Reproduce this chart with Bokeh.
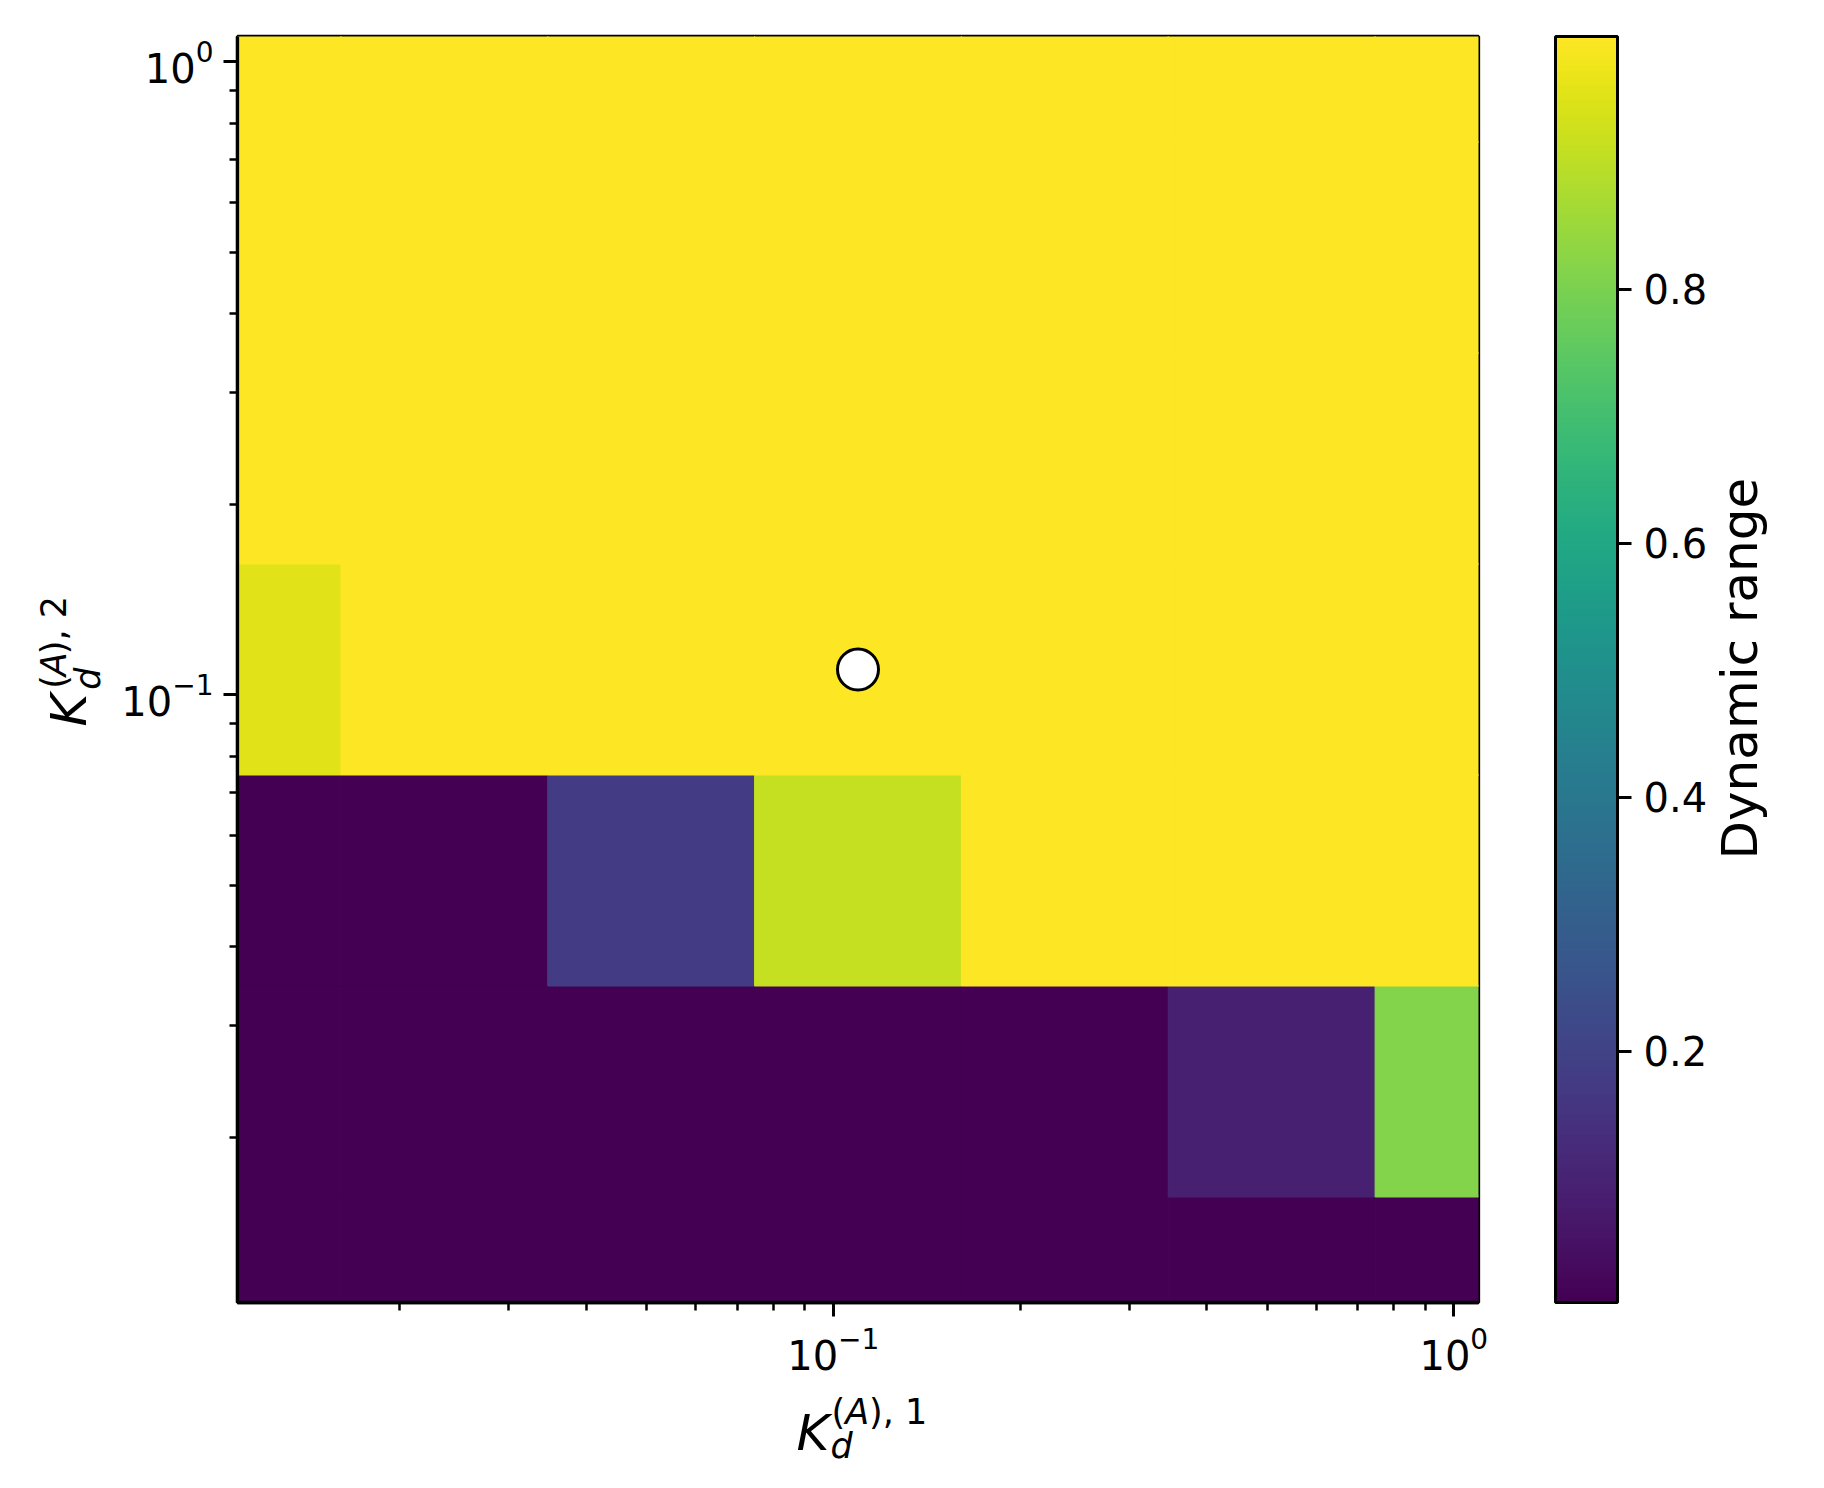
import math
import numpy as np
from bokeh.plotting import figure
from bokeh.layouts import row, column
from bokeh.models import (Range1d, LinearColorMapper, ColorBar, FixedTicker,
                          Label, ColumnDataSource)
from bokeh.palettes import Viridis256
from bokeh.embed import file_html
from bokeh.resources import INLINE

# ---------------- data ----------------
kd1_values = [0.01096, 0.02361, 0.05087, 0.1096, 0.2361, 0.5087, 1.096]
kd2_values = [0.01096, 0.02361, 0.05087, 0.1096, 0.2361, 0.5087, 1.096]

# dynamic range, one list per Kd2 row (lowest Kd2 first), columns follow kd1_values
dr_row_1 = [0.003, 0.003, 0.003, 0.003, 0.003, 0.003, 0.003]
dr_row_2 = [0.003, 0.003, 0.003, 0.003, 0.003, 0.088, 0.815]
dr_row_3 = [0.002, 0.004, 0.180, 0.910, 0.999, 0.999, 0.999]
dr_row_4 = [0.956, 0.999, 0.999, 0.999, 0.999, 0.999, 0.999]
dr_row_5 = [0.999, 0.999, 0.999, 0.999, 0.999, 0.999, 0.999]
dr_row_6 = [0.999, 0.999, 0.999, 0.999, 0.999, 0.999, 0.999]
dr_row_7 = [0.999, 0.999, 0.999, 0.999, 0.999, 0.999, 0.999]
dr_rows = [dr_row_1, dr_row_2, dr_row_3, dr_row_4, dr_row_5, dr_row_6, dr_row_7]

reference_kd1 = [0.1096]
reference_kd2 = [0.1096]

major_ticks = [0.1, 1.0]
minor_ticks = [0.02, 0.03, 0.04, 0.05, 0.06, 0.07, 0.08, 0.09,
               0.2, 0.3, 0.4, 0.5, 0.6, 0.7, 0.8, 0.9]
colorbar_ticks = [0.2, 0.4, 0.6, 0.8]
colorbar_title = "Dynamic range"
x_label_parts = ["K", "d", "(", "A", "), 1"]
y_label_parts = ["K", "d", "(", "A", "), 2"]

# ---------------- layout (page pixels) ----------------
FL, FT, FW, FH = 237, 36, 1242, 1266
LEFT_W = 110            # width of the y-label strip
MAIN_R = 1710           # right edge of the main figure
MAIN_H = 1380           # height of the top row
BOT_H = 92              # height of the x-label strip
TOTAL_W = 1792
FONT = "DejaVu Sans"
ROT_K = 0.4             # pivot correction for rotated labels


def cell_edges(c):
    c = np.asarray(c, dtype=float)
    mids = np.sqrt(c[:-1] * c[1:])
    lo = np.concatenate([[c[0] ** 2 / mids[0]], mids])
    hi = np.concatenate([mids, [c[-1] ** 2 / mids[-1]]])
    return lo, hi


xlo, xhi = cell_edges(kd1_values)
ylo, yhi = cell_edges(kd2_values)
L, R, B, T, V = [], [], [], [], []
for j, row_vals in enumerate(dr_rows):
    for i, v in enumerate(row_vals):
        L.append(xlo[i]); R.append(xhi[i]); B.append(ylo[j]); T.append(yhi[j]); V.append(v)
src = ColumnDataSource(dict(left=L, right=R, bottom=B, top=T, dr=V))

all_vals = [v for r_ in dr_rows for v in r_]
mapper = LinearColorMapper(palette=Viridis256, low=min(all_vals), high=max(all_vals))

main_w = MAIN_R - LEFT_W
p = figure(width=main_w, height=MAIN_H, x_axis_type="log", y_axis_type="log",
           x_range=Range1d(kd1_values[0], kd1_values[-1]),
           y_range=Range1d(kd2_values[0], kd2_values[-1]),
           output_backend="svg", toolbar_location=None,
           min_border_left=FL - LEFT_W, min_border_top=FT,
           min_border_right=MAIN_R - FL - FW, min_border_bottom=MAIN_H - FT - FH)
p.grid.visible = False
p.background_fill_color = "white"
p.border_fill_color = "white"
p.outline_line_color = "black"
p.outline_line_width = 3.3

p.quad(left="left", right="right", bottom="bottom", top="top", source=src,
       fill_color={"field": "dr", "transform": mapper},
       line_color={"field": "dr", "transform": mapper}, line_width=1)

p.scatter(x=reference_kd1, y=reference_kd2, size=41, marker="circle",
          fill_color="white", line_color="black", line_width=3)

for ax in (p.xaxis[0], p.yaxis[0]):
    ax.ticker = FixedTicker(ticks=major_ticks, minor_ticks=minor_ticks)
    ax.axis_line_color = "black"
    ax.axis_line_width = 3.3
    ax.major_tick_out = 14
    ax.major_tick_in = 0
    ax.major_tick_line_width = 3
    ax.minor_tick_out = 8
    ax.minor_tick_in = 0
    ax.minor_tick_line_width = 2.5
    ax.major_label_text_font = FONT
    ax.major_label_text_font_size = "40px"
    ax.major_label_text_color = "black"
    ax.major_label_standoff = 10

cb = ColorBar(color_mapper=mapper, ticker=FixedTicker(ticks=colorbar_ticks),
              width=62, height=FH, padding=0, margin=0, location=(77, 0),
              major_label_text_font=FONT, major_label_text_font_size="40px",
              major_label_text_color="black",
              major_tick_out=14, major_tick_in=0, major_tick_line_color="black",
              major_tick_line_width=3, minor_tick_line_color=None,
              bar_line_color="black", bar_line_width=3,
              border_line_color=None, background_fill_color=None,
              label_standoff=12)
p.add_layout(cb, "right")


def text_fig(w, h):
    f = figure(width=w, height=h, x_range=Range1d(0, w), y_range=Range1d(h, 0),
               output_backend="svg", toolbar_location=None,
               x_axis_location=None, y_axis_location=None, min_border=0)
    f.grid.visible = False
    f.outline_line_color = None
    f.background_fill_color = "white"
    f.border_fill_color = "white"
    return f


def lab(f, x, y, text, size, italic=False, angle=0.0, align="left"):
    if angle:
        x, y = x - ROT_K * size, y + ROT_K * size
    f.add_layout(Label(x=x, y=y, text=text, text_font=FONT,
                       text_font_size=f"{size}px",
                       text_font_style="italic" if italic else "normal",
                       text_align=align, text_baseline="alphabetic",
                       text_color="black", angle=angle))


# y-axis label strip (page x 0..LEFT_W, page y 0..MAIN_H)
left_fig = text_fig(LEFT_W, MAIN_H)
a = math.pi / 2
k0y = 732
lab(left_fig, 88, k0y, y_label_parts[0], 50, italic=True, angle=a)
lab(left_fig, 101, k0y - 34, y_label_parts[1], 35, italic=True, angle=a)
lab(left_fig, 67, k0y - 35, y_label_parts[2], 35, angle=a)
lab(left_fig, 67, k0y - 35 - 13.7, y_label_parts[3], 35, italic=True, angle=a)
lab(left_fig, 67, k0y - 35 - 13.7 - 23.9, y_label_parts[4], 35, angle=a)

# colour bar title strip (page x MAIN_R..TOTAL_W)
right_fig = text_fig(TOTAL_W - MAIN_R, MAIN_H)
lab(right_fig, 1759 - MAIN_R, FT + FH / 2, colorbar_title, 50, angle=a, align="center")

# x-axis label strip (page y MAIN_H..MAIN_H+BOT_H)
bot_fig = text_fig(TOTAL_W, BOT_H)
k0 = 796
oy = MAIN_H
lab(bot_fig, k0, 1432 - oy, x_label_parts[0], 50, italic=True)
lab(bot_fig, k0 + 34, 1445 - oy, x_label_parts[1], 35, italic=True)
lab(bot_fig, k0 + 35, 1411 - oy, x_label_parts[2], 35)
lab(bot_fig, k0 + 35 + 13.7, 1411 - oy, x_label_parts[3], 35, italic=True)
lab(bot_fig, k0 + 35 + 13.7 + 23.9, 1411 - oy, x_label_parts[4], 35)

layout = column(row(left_fig, p, right_fig, spacing=0), bot_fig, spacing=0)

open("out.html", "w").write(file_html(layout, INLINE))
